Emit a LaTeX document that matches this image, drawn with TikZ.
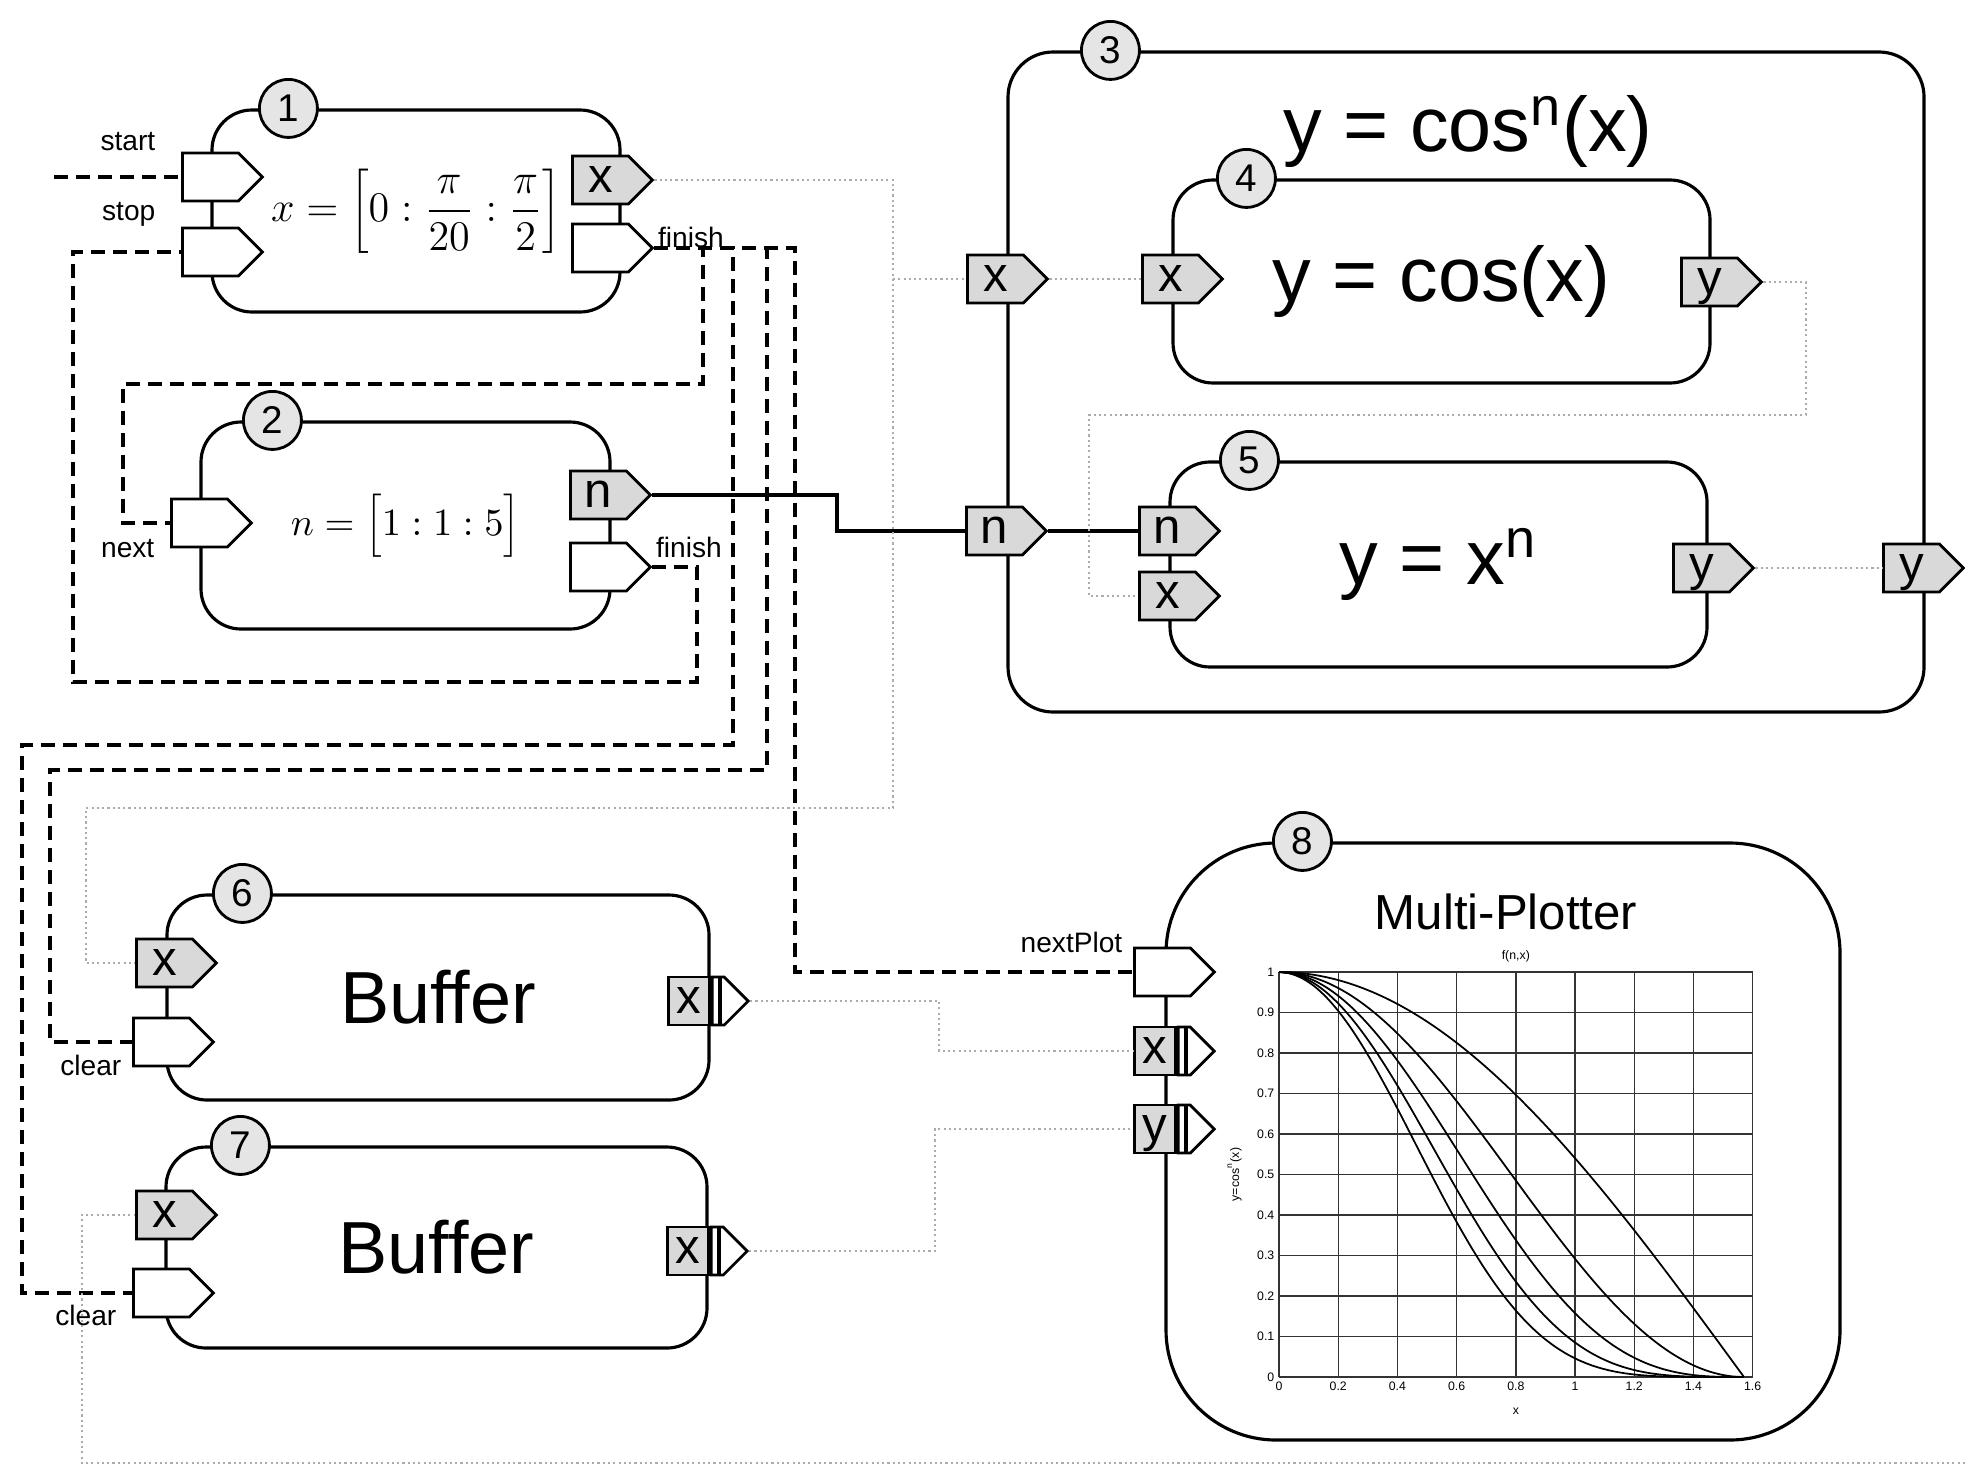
\documentclass[tikz,border=0pt]{standalone}
\usepackage{fontspec}
\setmainfont{Liberation Sans}
\usetikzlibrary{shapes.symbols, positioning}
\tikzstyle{block} = [rectangle, rounded corners=4mm, draw=black, line width=0.9pt, inner sep=0pt]
\tikzstyle{tag} = [circle, draw=black, line width=0.8pt, fill=gray!20, minimum size=5.8mm, inner sep=0pt, font=\fontsize{11}{11}\selectfont]
\tikzstyle{port} = [signal, signal to=east, draw=black, line width=0.8pt, fill=white, minimum width=8mm, minimum height=4.8mm, inner sep=0pt, anchor=west]
\tikzstyle{dport} = [port, fill=gray!30, text height=2.5mm, text depth=0pt, font=\fontsize{14}{14}\selectfont]
\tikzstyle{arrcell} = [rectangle, draw=black, line width=0.8pt, fill=gray!30, minimum width=4.1mm, minimum height=4.8mm, inner sep=0pt, anchor=west, text height=2.5mm, text depth=0pt, font=\fontsize{14}{14}\selectfont]
\tikzstyle{arrtip} = [signal, signal to=east, draw=black, line width=0.8pt, fill=white, minimum width=3.6mm, minimum height=4.8mm, inner sep=0pt, anchor=west,
  path picture={\draw[line width=1pt] ([xshift=0.8mm]path picture bounding box.south west) -- ([xshift=0.8mm]path picture bounding box.north west);}]
\tikzstyle{lbl} = [font=\fontsize{8}{8}\selectfont, inner sep=0pt]
\tikzstyle{big} = [font=\fontsize{22}{24}\selectfont]
\tikzstyle{ctrl} = [line width=1pt, dash pattern=on 1.4mm off 0.8mm]
\tikzstyle{wire} = [line width=0.9pt]
\tikzstyle{sig} = [gray!65, line width=0.8pt, dash pattern=on 0.6pt off 0.9pt]
\tikzstyle{gridln} = [line width=0.4pt, black!80]
\tikzstyle{curve} = [line width=0.5pt]
\tikzstyle{tick} = [font=\fontsize{3.5}{4}\selectfont, inner sep=0.4mm]

\begin{document}
\begin{tikzpicture}[x=1mm, y=-1mm]
    \useasboundingbox (0,0) rectangle (196.5,147);

    % blocks
    \node (blk1) [block, minimum width=40.8mm, minimum height=20.2mm, font=\fontsize{12}{14}\selectfont] at (41.6,21.1) {$\displaystyle x=\left[0:\frac{\pi}{20}:\frac{\pi}{2}\right]$};
    \node (blk2) [block, minimum width=40.9mm, minimum height=20.7mm, font=\fontsize{11}{13}\selectfont] at (40.55,52.55) {$n=\Bigl[1:1:5\Bigr]$};
    \node (blk3) [block, rounded corners=4.5mm, minimum width=91.6mm, minimum height=66mm] at (146.6,38.2) {};
    \node (title3) [big] at (146.8,13.2) {y = cos\textsuperscript{n}(x)};
    \node (blk4) [block, big, minimum width=53.7mm, minimum height=20.3mm] at (144.15,28.15) {y = cos(x)};
    \node (blk5) [block, big, minimum width=53.7mm, minimum height=20.5mm] at (143.85,56.45) {y = x\textsuperscript{n}};
    \node (blk6) [block, minimum width=54.2mm, minimum height=20.5mm, font=\fontsize{21}{23}\selectfont] at (43.8,99.75) {Buffer};
    \node (blk7) [block, minimum width=54.1mm, minimum height=20.1mm, font=\fontsize{21}{23}\selectfont] at (43.65,124.75) {Buffer};
    \node (blk8) [block, rounded corners=11mm, minimum width=67.4mm, minimum height=59.7mm] at (150.3,114.15) {};
    \node (title8) [font=\fontsize{14}{16}\selectfont] at (150.6,91.2) {Multi-Plotter};

    % numbered tags
    \node (tag1) [tag] at ([xshift=7.8mm]blk1.north west) {1};
    \node (tag2) [tag] at ([xshift=7.3mm]blk2.north west) {2};
    \node (tag3) [tag] at ([xshift=10.4mm]blk3.north west) {3};
    \node (tag4) [tag] at ([xshift=7.5mm]blk4.north west) {4};
    \node (tag5) [tag] at ([xshift=8.1mm]blk5.north west) {5};
    \node (tag6) [tag] at ([xshift=7.7mm]blk6.north west) {6};
    \node (tag7) [tag] at ([xshift=7.6mm]blk7.north west) {7};
    \node (tag8) [tag] at ([xshift=13.8mm]blk8.north west) {8};

    % ports
    \node (sta) [port] at (18.1,17.7) {};
    \node (stp) [port] at (18.1,25.2) {};
    \node (x1) [dport] at (57.1,18.0) {x};
    \node (fin1) [port] at (57.1,24.8) {};
    \node (nxt) [port] at (17.0,52.3) {};
    \node (n2) [dport] at (56.9,49.5) {n};
    \node (fin2) [port] at (56.9,56.7) {};
    \node (x3) [dport] at (96.6,27.9) {x};
    \node (n3) [dport] at (96.5,53.1) {n};
    \node (y3) [dport] at (188.2,56.8) {y};
    \node (x4) [dport] at (114.1,27.9) {x};
    \node (y4) [dport] at (168.0,28.2) {y};
    \node (n5) [dport] at (113.8,53.1) {n};
    \node (x5) [dport] at (113.8,59.6) {x};
    \node (y5) [dport] at (167.2,56.8) {y};
    \node (x6) [dport] at (13.5,96.3) {x};
    \node (clr6) [port] at (13.2,104.2) {};
    \node (ap6) [arrcell] at (66.7,100.1) {x};
    \node (ap6t) [arrtip] at (ap6.east) {};
    \node (x7) [dport] at (13.5,121.5) {x};
    \node (clr7) [port] at (13.2,129.3) {};
    \node (ap7) [arrcell] at (66.6,125.1) {x};
    \node (ap7t) [arrtip] at (ap7.east) {};
    \node (np8) [port] at (113.3,97.2) {};
    \node (xa8) [arrcell] at (113.3,105.1) {x};
    \node (xa8t) [arrtip] at (xa8.east) {};
    \node (ya8) [arrcell] at (113.3,112.9) {y};
    \node (ya8t) [arrtip] at (ya8.east) {};

    % port labels
    \node (lsta) [lbl, above left=0mm and 2.5mm of sta.north west] {start};
    \node (lstp) [lbl, above left=0mm and 2.5mm of stp.north west] {stop};
    \node (lfin1) [lbl, above right=0mm and 0.3mm of fin1.east] {finish};
    \node (lnxt) [lbl, below left=-1mm and 1.5mm of nxt.south west] {next};
    \node (lfin2) [lbl, above right=0.9mm and 0.3mm of fin2.east] {finish};
    \node (lclr6) [lbl, below left=-1.3mm and 1mm of clr6.south west] {clear};
    \node (lclr7) [lbl, below left=-1.4mm and 1.5mm of clr7.south west] {clear};
    \node (lnp8) [lbl, above left=-0.7mm and 1mm of np8.north west] {nextPlot};

    % free ends
    \coordinate (startin) at (5.4,17.7);
    \coordinate (xin7) at (196.5,146.3);
    \coordinate (xsplit) at (89.3,27.9);

    % control lines
    \draw [ctrl] (startin) -- (sta.west);
    \draw [ctrl] (fin2.east) -| (69.7,68.2) -- (7.3,68.2) |- (stp.west);
    \draw [ctrl] (fin1.east) -| (70.3,38.4) -- (12.3,38.4) |- (nxt.west);
    \draw [ctrl] (fin1.east) -| (73.3,74.5) -- (2.2,74.5) |- (clr7.west);
    \draw [ctrl] (fin1.east) -| (76.7,77.0) -- (5.0,77.0) |- (clr6.west);
    \draw [ctrl] (fin1.east) -| (79.5,90) |- (np8.west);

    % data lines
    \draw [wire] (n2.east) -| (83.7,51) |- (n3.west);
    \draw [wire] (n3.east) -- (n5.west);
    \draw [sig] (x1.east) -| (89.3,80.8) -- (8.6,80.8) |- (x6.west);
    \draw [sig] (xsplit |- x3.west) -- (x3.west);
    \draw [sig] (x3.east) -- (x4.west);
    \draw [sig] (y4.east) -| (180.6,41.5) -- (108.9,41.5) |- (x5.west);
    \draw [sig] (y5.east) -- (y3.west);
    \draw [sig] (ap6t.east) -| (93.9,103) |- (xa8.west);
    \draw [sig] (ap7t.east) -| (93.5,118) |- (ya8.west);
    \draw [sig] (xin7) -| (8.2,130) |- (x7.west);

    % plot of cos^n(x)
    \begin{scope}[shift={(127.9,137.7)}, x=29.6mm, y=40.5mm]
        \foreach \i in {0,...,8} \draw [gridln] (0.2*\i,0) -- (0.2*\i,1);
        \foreach \j in {0,...,10} \draw [gridln] (0,0.1*\j) -- (1.6,0.1*\j);
        \foreach \n in {1,...,5} \draw [curve] plot[domain=0:1.5707, samples=40, smooth] (\x,{cos(\x r)^\n});
        \foreach \v [count=\k] in {0,0.2,0.4,0.6,0.8,1,1.2,1.4,1.6} \node (xt\k) [tick, below] at (\v,0) {\v};
        \foreach \v [count=\k] in {0,0.1,0.2,0.3,0.4,0.5,0.6,0.7,0.8,0.9,1} \node (yt\k) [tick, left] at (0,\v) {\v};
        \node (ptitle) [tick] at (0.8,1.04) {f(n,x)};
        \node (ylab) [tick, rotate=90] at (-0.15,0.5) {y=cos\textsuperscript{n}(x)};
        \node (xlab) [tick] at (0.8,-0.085) {x};
    \end{scope}
\end{tikzpicture}
\end{document}
